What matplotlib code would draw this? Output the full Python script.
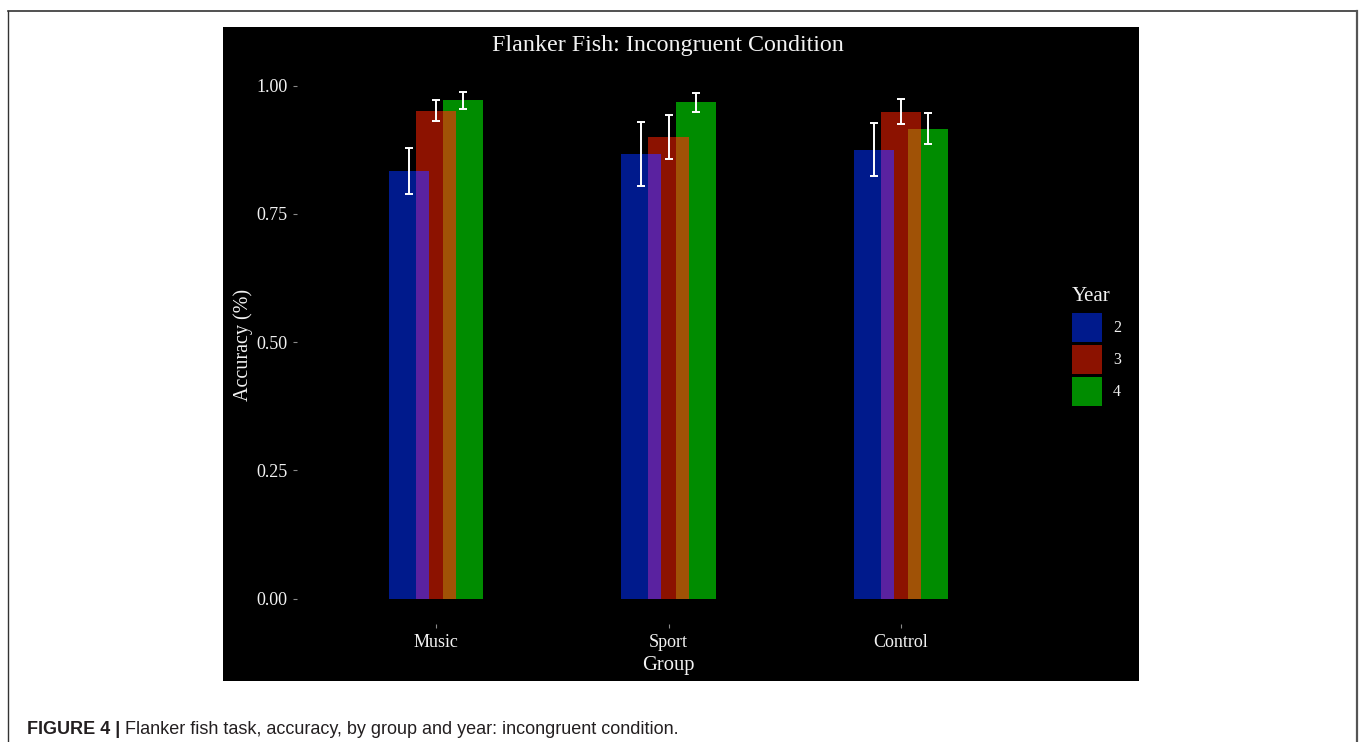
import numpy as np
import matplotlib
matplotlib.use("Agg")
import matplotlib.pyplot as plt
from matplotlib.patches import Rectangle
from matplotlib.lines import Line2D

# ---- data ----
groups = ["Music", "Sport", "Control"]
years = ["2", "3", "4"]
acc_y2 = [0.834, 0.867, 0.875]
acc_y3 = [0.951, 0.900, 0.949]
acc_y4 = [0.971, 0.967, 0.916]
err_y2 = [0.045, 0.062, 0.052]
err_y3 = [0.020, 0.043, 0.025]
err_y4 = [0.017, 0.019, 0.031]

title = "Flanker Fish: Incongruent Condition"
xlabel = "Group"
ylabel = "Accuracy (%)"
legend_title = "Year"
yticks = [0.00, 0.25, 0.50, 0.75, 1.00]
caption_bold = "FIGURE 4 |"
caption_text = " Flanker fish task, accuracy, by group and year: incongruent condition."

# ---- style ----
col_blue = "#001A8C"
col_red = "#8C1200"
col_green = "#008C00"
col_purple = "#5A22A0"
col_orange = "#A05206"
txt_col = "#F2F2F2"
serif = "Liberation Serif"

W, H = 1360, 742
fig = plt.figure(figsize=(W / 100, H / 100), dpi=100)
fig.patch.set_facecolor("white")

def fx(px):
    return px / W

def fy(py):
    return 1 - py / H

# outer frame (open at bottom)
fig.add_artist(Line2D([fx(8), fx(1357)], [fy(11), fy(11)], color="#333333", lw=1.2))
fig.add_artist(Line2D([fx(8), fx(8)], [fy(11), 0], color="#333333", lw=1.0))
fig.add_artist(Line2D([fx(1357), fx(1357)], [fy(11), 0], color="#555555", lw=1.6))

# black panel
fig.add_artist(Rectangle((fx(223), fy(681)), fx(1139) - fx(223), fy(27) - fy(681),
                         facecolor="black", edgecolor="none", zorder=0))

# axes
ylim = (-0.0494, 1.0374)
ppu = 513.0
y_bottom_px = 598.5 + (-ylim[0]) * ppu
y_top_px = 598.5 - ylim[1] * ppu
ax_left_px, ax_right_px = 297, 1040
ax = fig.add_axes([fx(ax_left_px), fy(y_bottom_px), fx(ax_right_px) - fx(ax_left_px),
                   fy(y_top_px) - fy(y_bottom_px)])
ax.set_facecolor("none")
for s in ax.spines.values():
    s.set_visible(False)

x = np.arange(1, len(groups) + 1)
bw = 40 / 232
off = 27 / 232
series = [(acc_y2, err_y2, col_blue), (acc_y3, err_y3, col_red), (acc_y4, err_y4, col_green)]
for i, (vals, errs, c) in enumerate(series):
    ax.bar(x + (i - 1) * off, vals, width=bw, color=c, zorder=2)

# overlap strips (blended colours) between neighbouring bars
ov_w = bw - off
ax.bar(x - off / 2, np.minimum(acc_y2, acc_y3), width=ov_w, color=col_purple, zorder=3)
ax.bar(x + off / 2, np.minimum(acc_y3, acc_y4), width=ov_w, color=col_orange, zorder=3)

for i, (vals, errs, c) in enumerate(series):
    ax.errorbar(x + (i - 1) * off, vals, yerr=errs, fmt="none", ecolor="white",
                elinewidth=1.4, capsize=3.2, capthick=1.4, zorder=4)

ax.set_xlim(0.4, 3.6)
ax.set_ylim(*ylim)
ax.set_xticks(x)
ax.set_xticklabels(groups)
ax.set_yticks(yticks)
ax.set_yticklabels([f"{v:.2f}" for v in yticks])
ax.tick_params(axis="both", colors="#8a8a8a", length=3, width=0.8, labelcolor=txt_col,
               labelsize=13, pad=4)
for lab in ax.get_xticklabels() + ax.get_yticklabels():
    lab.set_fontfamily(serif)

ax.set_xlabel(xlabel, fontfamily=serif, fontsize=14.8, color=txt_col, labelpad=4)
ax.set_ylabel(ylabel, fontfamily=serif, fontsize=14.5, color=txt_col, labelpad=2)

fig.text(fx(668), fy(45), title, ha="center", va="center", fontfamily=serif,
         fontsize=17.3, color=txt_col)

# legend
fig.text(fx(1072), fy(296), legend_title, ha="left", va="center", fontfamily=serif,
         fontsize=15, color=txt_col)
key_tops = [313, 345, 377]
for yr, c, top in zip(years, [col_blue, col_red, col_green], key_tops):
    fig.add_artist(Rectangle((fx(1072), fy(top + 29)), fx(1102) - fx(1072), fy(top) - fy(top + 29),
                             facecolor=c, edgecolor="none"))
    fig.text(fx(1113), fy(top + 15), yr, ha="left", va="center", fontfamily=serif,
             fontsize=11.5, color=txt_col)

# caption
t1 = fig.text(fx(27), fy(730), caption_bold, ha="left", va="center",
              fontfamily="Liberation Sans", fontweight="bold", fontsize=13, color="#231f20")
fig.canvas.draw()
bb = t1.get_window_extent()
fig.text(bb.x1 / W, fy(730), caption_text, ha="left", va="center",
         fontfamily="Liberation Sans", fontsize=13, color="#231f20")

fig.savefig("out.png", dpi=100, facecolor="white")
